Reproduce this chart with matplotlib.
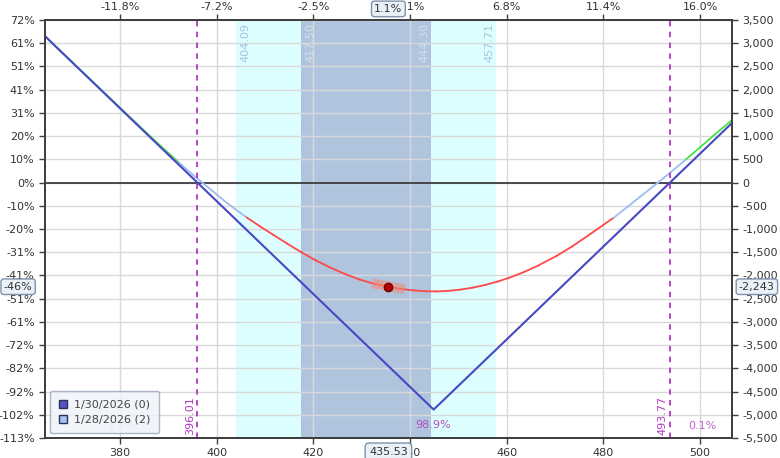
import numpy as np
import matplotlib
matplotlib.use('Agg')
import matplotlib.pyplot as plt
from matplotlib.collections import LineCollection
from matplotlib.patches import Patch
from matplotlib.transforms import blended_transform_factory

# P&L at expiration (1/30/2026)
exp_price = [364.5, 396.01, 444.89, 493.77, 506.6]
exp_pnl = [3151, 0, -4888, 0, 1283]

# P&L today (1/28/2026)
t0_price = [364.5, 370, 375, 380, 385, 388.5, 392.1, 394.5, 397, 399, 401.5, 403.8,
            406.2, 409, 411.7, 414.6, 417.6, 420.5, 423.5, 426.5, 429.5, 432.5, 435.53,
            438, 440.5, 443, 445.5, 448, 450.5, 453, 455.5, 458, 460.5, 463.5, 466.5,
            470.4, 473.5, 477.3, 480, 482.1, 485, 487.6, 491.3, 494, 497.1, 500, 503,
            506.6]
t0_pnl = [3155, 2605, 2108, 1612, 1118, 780, 440, 219, 0, -170, -385, -570,
          -750, -945, -1125, -1315, -1505, -1675, -1830, -1968, -2085, -2178, -2245,
          -2288, -2320, -2340, -2345, -2331, -2304, -2262, -2206, -2135, -2051, -1930, -1788,
          -1574, -1378, -1108, -911, -760, -522, -304, 0, 228, 501, 760, 1030,
          1347]

current_price = 435.53
current_pnl = -2243
breakevens = [396.01, 493.77]
outer_band = [404.09, 457.71]
inner_band = [417.50, 444.30]

x_ticks = [380, 400, 420, 440, 460, 480, 500]
top_labels = ['-11.8%', '-7.2%', '-2.5%', '2.1%', '6.8%', '11.4%', '16.0%']
y_ticks = list(range(3500, -6000, -500))
pct_labels = ['72%', '61%', '51%', '41%', '31%', '20%', '10%', '0%', '-10%', '-20%',
              '-31%', '-41%', '-51%', '-61%', '-72%', '-82%', '-92%', '-102%', '-113%']

XLIM = (364.5, 506.6)
YLIM = (-5500, 3500)
TXT = '#333333'
PURPLE = '#b038c0'

fig = plt.figure(figsize=(7.8, 4.58), dpi=100)
ax = fig.add_axes([45 / 780, 1 - 438 / 458, 687 / 780, 418 / 458])
ax.set_xlim(*XLIM)
ax.set_ylim(*YLIM)

# shaded ranges
ax.axvspan(*outer_band, color='#dcfefe', zorder=0, lw=0)
ax.axvspan(*inner_band, color='#b0c4de', zorder=0.1, lw=0)

ax.set_xticks(x_ticks)
ax.set_yticks(y_ticks)
ax.set_yticklabels(pct_labels)
ax.grid(True, color='#d9d9d9', lw=1, zorder=0.5)
ax.set_axisbelow(True)
ax.axhline(0, color='#202020', lw=1.1, zorder=1)

# today's curve, coloured by P&L level
pts = np.column_stack([t0_price, t0_pnl])
segs = np.stack([pts[:-1], pts[1:]], axis=1)
mids = (np.array(t0_pnl[:-1]) + np.array(t0_pnl[1:])) / 2
cols = ['#44e444' if m > 500 else '#ff4848' if m < -750 else '#9dbdf0' for m in mids]
ax.add_collection(LineCollection(segs, colors=cols, linewidths=1.3, zorder=2,
                                 capstyle='round', joinstyle='round'))

# expiration line
ax.plot(exp_price, exp_pnl, color='#4848c4', lw=1.5, zorder=3)

# current position marker
hx = [current_price - 3.3, current_price + 3.3]
ax.plot(hx, np.interp(hx, t0_price, t0_pnl), color='#f08c78', alpha=0.6, lw=7,
        solid_capstyle='butt', zorder=3.5)
ax.plot(current_price, current_pnl, 'o', ms=6, color='#b00000', mec='#700000', zorder=4)

# breakeven lines
for b in breakevens:
    ax.axvline(b, color=PURPLE, ls=(0, (3, 3)), lw=1.3, zorder=2.5)
    ax.annotate(f'{b:.2f}', xy=(b, 0), xycoords=('data', 'axes fraction'),
                xytext=(-1.5, 2), textcoords='offset points', rotation=90,
                ha='right', va='bottom', color=PURPLE, fontsize=8)

# band labels
band_txt = [(outer_band[0], 'left', '#a9c3de'), (inner_band[0], 'left', '#d4dfec'),
            (inner_band[1], 'right', '#d4dfec'), (outer_band[1], 'right', '#a9c3de')]
for v, ha, c in band_txt:
    ax.annotate(f'{v:.2f}', xy=(v, 1), xycoords=('data', 'axes fraction'),
                xytext=(3 if ha == 'left' else -1, -2), textcoords='offset points',
                rotation=90, ha=ha, va='top', color=c, fontsize=8)

# probability labels
ax.text(380.4, -5240, '1.0%', color='#e6b8f0', fontsize=8, ha='center', va='center')
ax.text(444.78, -5220, '98.9%', color='#b050c0', fontsize=8, ha='center', va='center')
ax.text(500.38, -5235, '0.1%', color='#c060d0', fontsize=8, ha='center', va='center')

for s in ax.spines.values():
    s.set_color('#404040')
    s.set_linewidth(1.2)
ax.tick_params(axis='both', colors='#404040', labelcolor=TXT, labelsize=8, length=4, width=1)

leg = ax.legend(handles=[Patch(fc='#5454c4', ec='#303050', label='1/30/2026 (0)'),
                         Patch(fc='#a4c4f4', ec='#303050', label='1/28/2026 (2)')],
                loc='lower left', bbox_to_anchor=(0.007, 0.011), borderaxespad=0,
                fontsize=8, frameon=True, fancybox=True, framealpha=0.8,
                borderpad=0.8, labelspacing=0.45,
                handlelength=0.75, handleheight=0.75, handletextpad=0.6, labelcolor='#444444')
leg.get_frame().set_facecolor('#eef2f8')
leg.get_frame().set_edgecolor('#98a4b8')
leg.set_zorder(6)

# right axis in dollars
ax_r = ax.twinx()
ax_r.set_ylim(*YLIM)
ax_r.set_yticks(y_ticks)
ax_r.set_yticklabels([f'{v:,}' for v in y_ticks])
ax_r.tick_params(axis='y', colors='#404040', labelcolor=TXT, labelsize=8, length=4, width=1)
for s in ax_r.spines.values():
    s.set_color('#404040')
    s.set_linewidth(1.2)

# top axis in percent move
ax_t = ax.twiny()
ax_t.set_xlim(*XLIM)
ax_t.set_xticks(x_ticks)
ax_t.set_xticklabels(top_labels)
ax_t.tick_params(axis='x', colors='#404040', labelcolor=TXT, labelsize=8, length=4,
                 width=1, pad=1.5)
for s in ax_t.spines.values():
    s.set_color('#404040')
    s.set_linewidth(1.2)

# value boxes on the axes
box = dict(boxstyle='round,pad=0.25', fc='#eaf1f9', ec='#7f93ac', lw=1)
tr_y = blended_transform_factory(ax_t.transAxes, ax.transData)
ax_t.annotate('-46%', xy=(0, current_pnl), xycoords=tr_y, xytext=(-9, 0),
              textcoords='offset points', ha='right', va='center', fontsize=8,
              color=TXT, bbox=box, annotation_clip=False, zorder=10)
ax_t.annotate(f'{current_pnl:,}', xy=(1, current_pnl), xycoords=tr_y, xytext=(5, 0),
              textcoords='offset points', ha='left', va='center', fontsize=8,
              color=TXT, bbox=box, annotation_clip=False, zorder=10)
ax_t.annotate(f'{current_price:.2f}', xy=(current_price, 0),
              xycoords=('data', 'axes fraction'), xytext=(0, -10),
              textcoords='offset points', ha='center', va='center', fontsize=8,
              color=TXT, bbox=dict(boxstyle='round,pad=0.35', fc='#eaf1f9', ec='#7f93ac', lw=1),
              annotation_clip=False, zorder=10)
ax_t.annotate('1.1%', xy=(current_price, 1), xycoords=('data', 'axes fraction'),
              xytext=(0, 8), textcoords='offset points', ha='center', va='center',
              fontsize=8, color=TXT, bbox=box, annotation_clip=False, zorder=10)

fig.savefig('out.png', dpi=100)
